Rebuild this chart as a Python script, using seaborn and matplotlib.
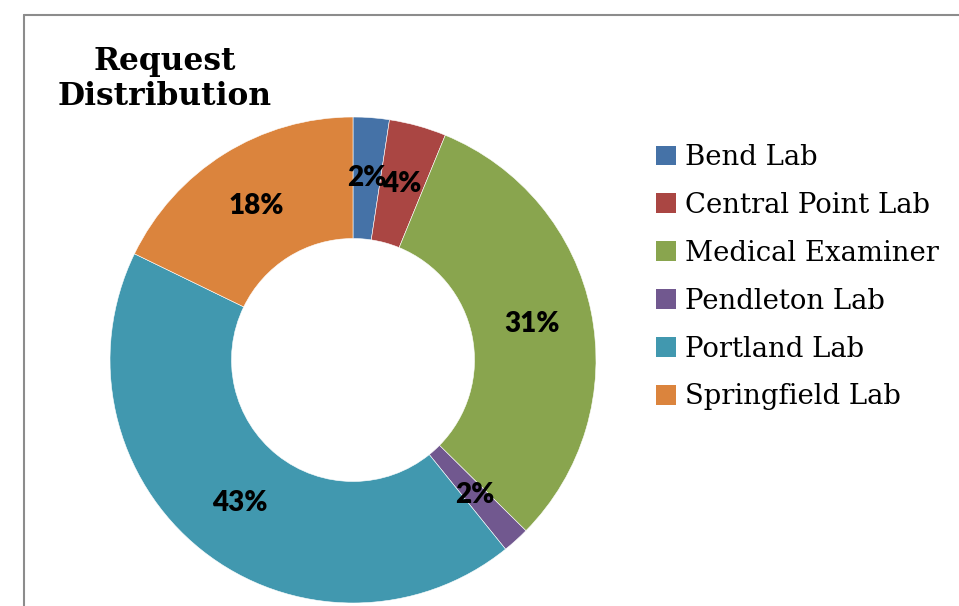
import matplotlib
matplotlib.use("Agg")
import matplotlib.pyplot as plt
from matplotlib.lines import Line2D
from matplotlib.patches import Patch
import seaborn as sns

categories = ["Bend Lab", "Central Point Lab", "Medical Examiner",
              "Pendleton Lab", "Portland Lab", "Springfield Lab"]
shares = [2.4, 3.8, 31.2, 1.8, 43.0, 17.8]
colors_hex = ["#4572A7", "#AA4643", "#89A54E", "#71588F", "#4198AF", "#DB843D"]
title_text = "Request\nDistribution"

sns.set_style("white")
palette = sns.color_palette(colors_hex)

W, H = 959, 606
fig = plt.figure(figsize=(W / 100, H / 100), dpi=100)

cx, cy, r = 353, 360, 243
ax = fig.add_axes([(cx - r) / W, (H - cy - r) / H, 2 * r / W, 2 * r / H])
wedges, texts, autotexts = ax.pie(
    shares, colors=palette, startangle=90, counterclock=False,
    radius=1, wedgeprops=dict(width=0.5, edgecolor="white", linewidth=0.4),
    autopct="%.0f%%", pctdistance=0.75,
    textprops=dict(family="Lato", fontweight="heavy", fontsize=20, color="black"))
ax.set_xlim(-1, 1)
ax.set_ylim(-1, 1)
ax.set_aspect("equal")
ax.axis("off")

fig.text(165 / W, 1 - 79 / H, title_text, ha="center", va="center", color="black",
         family="DejaVu Serif", fontweight="bold", fontsize=22.5, linespacing=1.2)

handles = [Patch(facecolor=c, edgecolor="none") for c in palette]
fig.legend(handles, categories, loc="upper left",
           bbox_to_anchor=(645 / W, 1 - 133 / H), frameon=False,
           prop=dict(family="DejaVu Serif", size=19.8), labelcolor="black",
           handlelength=0.72, handleheight=0.72, handletextpad=0.35,
           labelspacing=0.76, borderaxespad=0)

# outer frame lines
fig.add_artist(Line2D([24 / W, 1], [1 - 15 / H, 1 - 15 / H], transform=fig.transFigure,
                      color="#8c8c8c", lw=1.5))
fig.add_artist(Line2D([24 / W, 24 / W], [0, 1 - 15 / H], transform=fig.transFigure,
                      color="#8c8c8c", lw=1.5))

fig.savefig("out.png", dpi=100)
